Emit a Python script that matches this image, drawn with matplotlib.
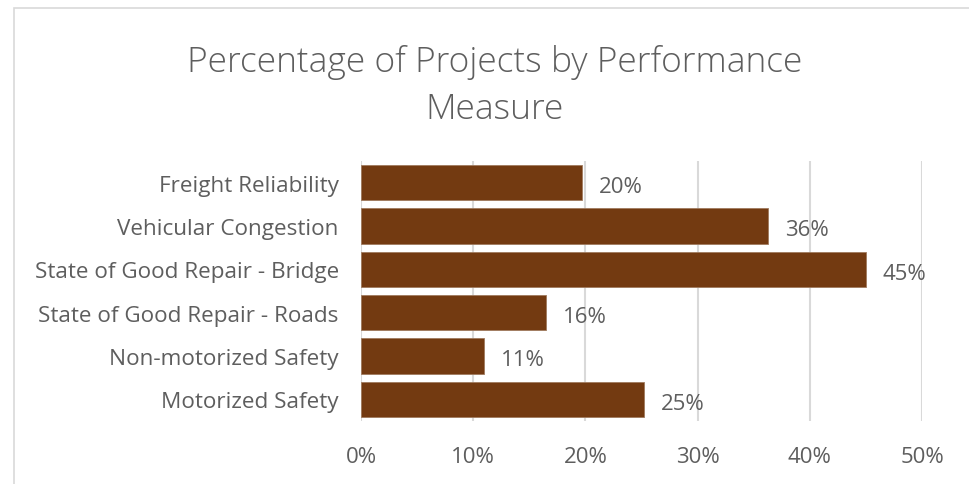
import matplotlib
matplotlib.use("Agg")
import matplotlib.pyplot as plt
from matplotlib.patches import Rectangle

categories = ["Freight Reliability", "Vehicular Congestion", "State of Good Repair - Bridge",
              "State of Good Repair - Roads", "Non-motorized Safety", "Motorized Safety"]
values = [0.197, 0.363, 0.450, 0.165, 0.110, 0.252]
xticks = [0, 0.1, 0.2, 0.3, 0.4, 0.5]
xtick_labels = ["0%", "10%", "20%", "30%", "40%", "50%"]
title = "Percentage of Projects by Performance\nMeasure"

plt.rcParams['font.family'] = ['Open Sans', 'DejaVu Sans']
text_color = "#5E5E5E"
bar_color = "#733A11"
grid_color = "#D9D9D9"

W, H = 970, 485
fig = plt.figure(figsize=(W / 100, H / 100), dpi=100)
fig.patch.set_facecolor("white")

# chart frame
fig.patches.append(Rectangle((14 / W, -0.1), 1.2, 1 - 9 / H + 0.1, transform=fig.transFigure,
                             fill=False, edgecolor="#D9D9D9", linewidth=1.2))

ax = fig.add_axes([361 / W, 1 - 422 / H, (922 - 361) / W, (422 - 162) / H])
y = list(range(len(categories)))
ax.barh(y, values, height=0.81, color=bar_color, edgecolor="#A07A5E", linewidth=0.6, zorder=3)
ax.set_ylim(len(categories) - 0.5, -0.5)
ax.set_xlim(0, 0.5)
ax.set_yticks(y)
ax.set_yticklabels(categories, fontsize=16.2, color=text_color)
ax.set_xticks(xticks)
ax.set_xticklabels(xtick_labels, fontsize=16, color=text_color)
ax.tick_params(axis='both', length=0)
ax.tick_params(axis='y', pad=16)
ax.tick_params(axis='x', pad=18)
for s in ax.spines.values():
    s.set_visible(False)
ax.grid(axis='x', color=grid_color, linewidth=1.5, zorder=0)
ax.set_axisbelow(True)

for yi, v in zip(y, values):
    ax.annotate(f"{round(v * 100):.0f}%", xy=(v, yi), xytext=(17, -4), textcoords="offset pixels",
                ha="left", va="center", fontsize=16, color=text_color)

fig.text(495 / W, 1 - 86 / H, title, ha="center", va="center", fontsize=25.5, color=text_color,
         fontweight="light", linespacing=1.45)

fig.savefig("out.png", dpi=100, facecolor="white")
